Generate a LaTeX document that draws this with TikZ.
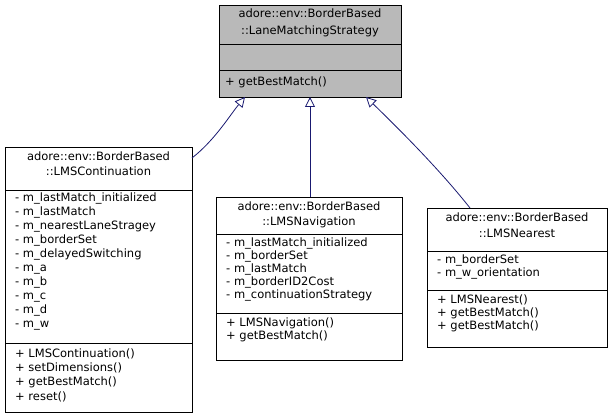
\documentclass[tikz,border=0pt]{standalone}
\usepackage{fontspec}
\setmainfont{DejaVu Sans}
\usetikzlibrary{arrows.meta}
\begin{document}
\begin{tikzpicture}[x=1pt,y=-1pt,
 box/.style={draw=black,line width=0.8pt},
 t/.style={font=\fontsize{11.5}{13}\selectfont,inner sep=0pt,anchor=base west},
 tc/.style={font=\fontsize{11.5}{13}\selectfont,inner sep=0pt,anchor=base},
 inh/.style={draw={rgb,255:red,25;green,25;blue,112},line width=0.8pt,-{Triangle[open,length=10pt,width=10pt,fill=white]}}]
\useasboundingbox (0,0) rectangle (613,419);
% top
\fill[gray!55] (219,5) rectangle (401,97);
\draw[box] (219,5) rectangle (401,97);
\draw[box] (219,44)--(401,44) (219,70)--(401,70);
\node[tc] (ta) at (310,18) {adore::env::BorderBased};
\node[tc] (tb) at (310,35) {::LaneMatchingStrategy};
\node[t] (tm) at (225,86) {+ getBestMatch()};
\coordinate (base) at (310,97);
\coordinate (bl) at (245,97);
\coordinate (br) at (366,97);
% left
\draw[box] (5,147) rectangle (192,412);
\draw[box] (5,190)--(192,190) (5,343)--(192,343);
\node[tc] (la) at (98.5,161) {adore::env::BorderBased};
\node[tc] (lb) at (98.5,176) {::LMSContinuation};
\foreach \s [count=\i] in {m\_lastMatch\_initialized,m\_lastMatch,m\_nearestLaneStragey,m\_borderSet,m\_delayedSwitching,m\_a,m\_b,m\_c,m\_d,m\_w}
  \node[t] at (15,{188+14*\i}) {- \s};
\foreach \s [count=\i] in {LMSContinuation(),setDimensions(),getBestMatch(),reset()}
  \node[t] at (15,{344+14*\i}) {+ \s};
\coordinate (lt) at (192,158);
% middle
\draw[box] (216,197) rectangle (402,360);
\draw[box] (216,234)--(402,234) (216,313)--(402,313);
\node[tc] (ma) at (309,211) {adore::env::BorderBased};
\node[tc] (mb) at (309,226) {::LMSNavigation};
\foreach \s [count=\i] in {m\_lastMatch\_initialized,m\_borderSet,m\_lastMatch,m\_borderID2Cost,m\_continuationStrategy}
  \node[t] at (226,{234+13*\i}) {- \s};
\foreach \s [count=\i] in {LMSNavigation(),getBestMatch()}
  \node[t] at (226,{314+13*\i}) {+ \s};
\coordinate (mt) at (310,197);
% right
\draw[box] (427,208) rectangle (607,347);
\draw[box] (427,251)--(607,251) (427,290)--(607,290);
\node[tc] (ra) at (517,222) {adore::env::BorderBased};
\node[tc] (rb) at (517,238) {::LMSNearest};
\foreach \s [count=\i] in {m\_borderSet,m\_w\_orientation}
  \node[t] at (437,{251+13*\i}) {- \s};
\foreach \s [count=\i] in {LMSNearest(),getBestMatch(),getBestMatch()}
  \node[t] at (437,{291+13*\i}) {+ \s};
\coordinate (rt) at (470,208);
% arrows
\draw[inh] (mt)--(base);
\draw[inh] (lt) .. controls (215,140) and (230,115) .. (bl);
\draw[inh] (rt) .. controls (440,170) and (400,130) .. (br);
\end{tikzpicture}
\end{document}
